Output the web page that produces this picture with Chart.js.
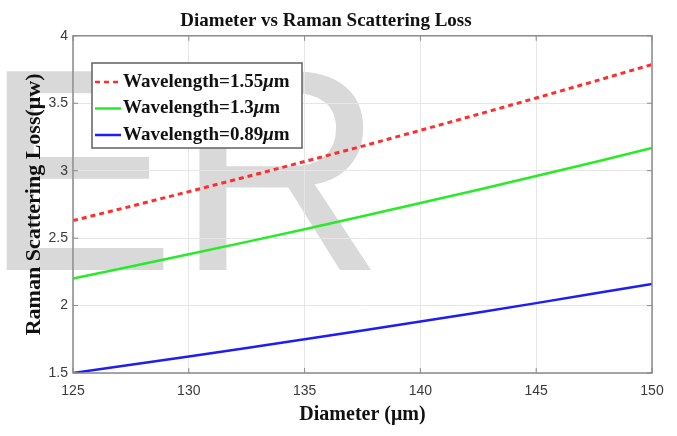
<!DOCTYPE html>
<html>
<head>
<meta charset="utf-8">
<script src="https://cdn.jsdelivr.net/npm/chart.js@4.4.1/dist/chart.umd.min.js"></script>
<style>
  html, body { margin: 0; padding: 0; background: #fff; }
  #wrap { width: 677px; height: 436px; }
</style>
</head>
<body>
<div id="wrap"><canvas id="chart" width="677" height="436"></canvas></div>
<script>
// Diameter vs Raman scattering loss for three wavelengths

const diameters = [125, 127.5, 130, 132.5, 135, 137.5, 140, 142.5, 145, 147.5, 150];
const loss155 = [2.63, 2.736, 2.845, 2.955, 3.068, 3.182, 3.299, 3.418, 3.539, 3.662, 3.787];
const loss130 = [2.2, 2.289, 2.38, 2.472, 2.566, 2.662, 2.76, 2.859, 2.96, 3.063, 3.168];
const loss089 = [1.5, 1.561, 1.622, 1.685, 1.75, 1.815, 1.882, 1.949, 2.018, 2.089, 2.16];
const seriesLabels = ['Wavelength=1.55μm', 'Wavelength=1.3μm', 'Wavelength=0.89μm'];
const xTicks = [125, 130, 135, 140, 145, 150];
const yTicks = [1.5, 2, 2.5, 3, 3.5, 4];

const serif = '"Liberation Serif", "Times New Roman", serif';
const sans = '"Liberation Sans", Arial, sans-serif';

function toPoints(values) {
  return values.map((v, i) => ({ x: diameters[i], y: v }));
}

// big grey "ER" watermark behind everything
const watermark = {
  id: 'watermark',
  beforeDraw(chart) {
    const ctx = chart.ctx;
    ctx.save();
    ctx.font = '289px ' + sans;
    ctx.fillStyle = '#d9d9d9';
    ctx.textBaseline = 'alphabetic';
    ctx.fillText('ER', -17, 270);
    ctx.restore();
  }
};

// matlab style box round the axes, with small inner ticks
const frame = {
  id: 'frame',
  afterDraw(chart) {
    const { ctx, chartArea: a, scales } = chart;
    ctx.save();
    ctx.strokeStyle = '#8a8a8a';
    ctx.lineWidth = 1.5;
    ctx.strokeRect(a.left, a.top, a.right - a.left, a.bottom - a.top);
    ctx.lineWidth = 1;
    ctx.beginPath();
    yTicks.forEach(v => {
      const py = scales.y.getPixelForValue(v);
      ctx.moveTo(a.left, py); ctx.lineTo(a.left + 5, py);
      ctx.moveTo(a.right, py); ctx.lineTo(a.right - 5, py);
    });
    xTicks.forEach(v => {
      const px = scales.x.getPixelForValue(v);
      ctx.moveTo(px, a.bottom); ctx.lineTo(px, a.bottom - 5);
      ctx.moveTo(px, a.top); ctx.lineTo(px, a.top + 5);
    });
    ctx.stroke();
    ctx.restore();
  }
};

function drawLabel(ctx, text, x, y) {
  const parts = text.split('μ');
  parts.forEach((p, i) => {
    if (i > 0) {
      ctx.font = 'italic bold 19px ' + serif;
      ctx.fillText('μ', x, y);
      x += ctx.measureText('μ').width;
    }
    ctx.font = 'bold 19px ' + serif;
    ctx.fillText(p, x, y);
    x += ctx.measureText(p).width;
  });
}

// legend box in the upper left of the plot
const boxLegend = {
  id: 'boxLegend',
  afterDraw(chart) {
    const ctx = chart.ctx;
    const x = 92, y = 63, w = 210, h = 85;
    ctx.save();
    ctx.fillStyle = '#fff';
    ctx.fillRect(x, y, w, h);
    ctx.strokeStyle = '#606060';
    ctx.lineWidth = 1.5;
    ctx.strokeRect(x, y, w, h);
    ctx.textBaseline = 'middle';
    chart.data.datasets.forEach((ds, i) => {
      const ry = y + 19 + i * 26.5;
      ctx.strokeStyle = ds.borderColor;
      ctx.lineWidth = 2.5;
      ctx.setLineDash(ds.borderDash || []);
      ctx.beginPath();
      ctx.moveTo(x + 3, ry);
      ctx.lineTo(x + 29, ry);
      ctx.stroke();
      ctx.setLineDash([]);
      ctx.fillStyle = '#111';
      drawLabel(ctx, ds.label, x + 31, ry);
    });
    ctx.restore();
  }
};

new Chart(document.getElementById('chart'), {
  type: 'line',
  data: {
    datasets: [
      {
        label: seriesLabels[0],
        data: toPoints(loss155),
        borderColor: 'rgb(255, 45, 45)',
        borderDash: [5, 4],
        borderWidth: 3,
        pointRadius: 0,
        tension: 0
      },
      {
        label: seriesLabels[1],
        data: toPoints(loss130),
        borderColor: 'rgb(40, 235, 40)',
        borderWidth: 2.5,
        pointRadius: 0,
        tension: 0
      },
      {
        label: seriesLabels[2],
        data: toPoints(loss089),
        borderColor: 'rgb(30, 30, 240)',
        borderWidth: 2.5,
        pointRadius: 0,
        tension: 0
      }
    ]
  },
  options: {
    responsive: false,
    animation: false,
    devicePixelRatio: 1,
    layout: {
      padding: { top: 0, right: 25, bottom: 0, left: 0 }
    },
    plugins: {
      legend: { display: false },
      tooltip: { enabled: false },
      title: {
        display: true,
        text: 'Diameter vs Raman Scattering Loss',
        color: '#111',
        font: { family: serif, size: 19, weight: 'bold' },
        padding: { top: 10, bottom: 3 }
      }
    },
    scales: {
      x: {
        type: 'linear',
        min: 125,
        max: 150,
        afterBuildTicks: s => { s.ticks = xTicks.map(v => ({ value: v })); },
        afterFit: s => { s.height = 63; },
        grid: { color: '#e6e6e6', drawTicks: false },
        border: { display: false },
        ticks: {
          padding: 10,
          color: '#3a3a3a',
          font: { family: sans, size: 14 },
          callback: v => String(v)
        },
        title: {
          display: true,
          text: 'Diameter (μm)',
          color: '#111',
          font: { family: serif, size: 20, weight: 'bold' },
          padding: { top: 0, bottom: 9 }
        }
      },
      y: {
        min: 1.5,
        max: 4,
        afterBuildTicks: s => { s.ticks = yTicks.map(v => ({ value: v })); },
        afterFit: s => { s.width = 73; },
        grid: { color: '#e6e6e6', drawTicks: false },
        border: { display: false },
        ticks: {
          padding: 5,
          color: '#3a3a3a',
          font: { family: sans, size: 14 },
          callback: v => String(v)
        },
        title: {
          display: true,
          text: 'Raman Scattering Loss(μw)',
          color: '#111',
          font: { family: serif, size: 22, weight: 'bold' },
          padding: { top: 21, bottom: 0 }
        }
      }
    }
  },
  plugins: [watermark, frame, boxLegend]
});
</script>
</body>
</html>
